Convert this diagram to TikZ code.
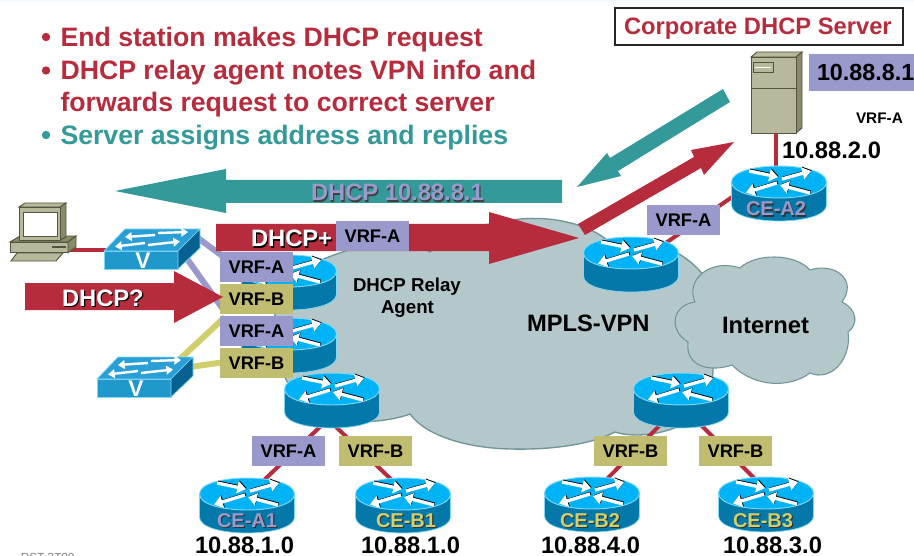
\documentclass[tikz,border=0pt]{standalone}
\usepackage{fontspec}
\setmainfont{Liberation Sans}
\usetikzlibrary{arrows.meta}
\definecolor{redc}{HTML}{B72C3C}
\definecolor{tealc}{HTML}{339999}
\definecolor{lav}{HTML}{9999CC}
\definecolor{kha}{HTML}{C0BC70}
\definecolor{yel}{HTML}{CFCF6E}
\definecolor{cloudf}{HTML}{B4C7CA}
\definecolor{cloudl}{HTML}{6F9598}
\definecolor{rtop}{HTML}{00B2F6}
\definecolor{rside}{HTML}{0478A8}
\definecolor{rrim}{HTML}{7FD8F5}
\definecolor{swf}{HTML}{2098CC}
\definecolor{swt}{HTML}{2A9FD6}
\definecolor{sws}{HTML}{046190}
\definecolor{begef}{HTML}{B8B89C}
\definecolor{begel}{HTML}{55553F}
\definecolor{beged}{HTML}{8A8A6A}
\newcommand\shtext[2]{\makebox[0pt][l]{\kern .9pt\raisebox{-.9pt}{\textcolor{#1}{#2}}}#2}
\tikzset{
  lbl/.style={inner sep=0pt,outer sep=0pt,anchor=base west,font=\bfseries\fontsize{#1}{#1}\selectfont},
  lbl/.default=17.8,
  vrfa/.style={fill=lav,minimum width=54.75pt,minimum height=22.5pt,inner sep=0pt,font=\bfseries\fontsize{13.7}{14}\selectfont},
  vrfb/.style={vrfa,fill=kha},
  link/.style={draw=redc,line width=3pt},
  lavlink/.style={draw=lav,line width=4.5pt},
  yellink/.style={draw=yel,line width=4.5pt},
  rarrow/.style={line width=2.5pt,-{Triangle[length=6.5pt,width=9pt]}},
  sarrow/.style={white,line width=1.8pt,-{Triangle[length=5pt,width=6.5pt]}},
  pics/router/.style={code={
    \path[fill=rside,draw=rrim,line width=.5pt] (-47.5,0) -- (-47.5,23) .. controls (-47.5,44.3) and (47.5,44.3) .. (47.5,23) -- (47.5,0) -- cycle;
    \path[fill=rtop,draw=rrim,line width=.7pt] (-47.5,0) .. controls (-47.5,-21.3) and (47.5,-21.3) .. (47.5,0) .. controls (47.5,21.3) and (-47.5,21.3) .. (-47.5,0) -- cycle;
    \foreach \a/\b/\c/\d in {-30/-11/-1/-5,3/-3/32/-11,-2/1/-33/10.5,31/11/1/3}{
      \draw[rarrow,black] (\a+.7,\b-.7) -- (\c+.7,\d-.7);
      \draw[rarrow,white] (\a,\b) -- (\c,\d);
    }
  }},
  pics/lanswitch/.style={code={
    \path[fill=swf,draw=rrim,line width=.5pt] (0,0) rectangle (74,18);
    \path[fill=swt,draw=rrim,line width=.5pt] (0,0) -- (21,-22) -- (96,-22) -- (74,0) -- cycle;
    \path[fill=sws,draw=rrim,line width=.5pt] (74,0) -- (96,-22) -- (96,-3) -- (74,18) -- cycle;
    \draw[sarrow] (51,-16) -- (21,-14);
    \draw[sarrow] (54,-18) -- (84,-19);
    \draw[sarrow] (41,-8) -- (11,-4.5);
    \draw[sarrow] (44,-6) -- (76,-9.5);
    \node[inner sep=0pt,text=white,font=\bfseries\fontsize{17}{17}\selectfont] at (39,10) {V};
  }}
}
\begin{document}
\begin{tikzpicture}[x=0.75pt,y=-0.75pt]
\useasboundingbox (0,0) rectangle (914,556);
\fill[white] (0,0) rectangle (914,556);
\fill[black!8!cyan!5!white] (0,0) rectangle (914,2);
\node[lbl=8.8,text=black!50,font=\fontsize{8.8}{9}\selectfont] (foot) at (21,561.4) {RST-2T00};
% positions
\coordinate (pe1) at (289,271);
\coordinate (pe2) at (289,334);
\coordinate (pe3) at (332,389);
\coordinate (hub) at (631,253);
\coordinate (cea2) at (779,182);
\coordinate (pe4) at (681,389);
\coordinate (cea1) at (247,494);
\coordinate (ceb1) at (403,494);
\coordinate (ceb2) at (592,493);
\coordinate (ceb3) at (766,493);
% clouds
\path[fill=cloudf,draw=cloudl,line width=1pt] (275,315) .. controls (270,290) and (300,265) .. (343,252)
  .. controls (370,240) and (410,240) .. (430,252)
  .. controls (445,235) and (470,226) .. (497,223)
  .. controls (540,212) and (585,222) .. (607,240)
  .. controls (640,235) and (680,245) .. (705,277)
  .. controls (720,300) and (720,340) .. (713,367)
  .. controls (715,390) and (690,425) .. (677,427)
  .. controls (655,436) and (630,437) .. (615,432)
  .. controls (590,445) and (550,450) .. (510,449)
  .. controls (465,448) and (425,435) .. (410,414)
  .. controls (395,420) and (360,425) .. (330,420)
  .. controls (290,410) and (265,345) .. (275,315) -- cycle;
\path[fill=cloudf,draw=cloudl,line width=.8pt] (695,302) .. controls (685,280) and (710,258) .. (740,268)
  .. controls (755,253) and (795,253) .. (810,270)
  .. controls (835,262) and (858,280) .. (842,302)
  .. controls (858,310) and (858,325) .. (848,332)
  .. controls (852,360) and (830,382) .. (810,373)
  .. controls (790,388) and (755,388) .. (732,365)
  .. controls (712,372) and (685,368) .. (688,342)
  .. controls (668,330) and (672,305) .. (695,302) -- cycle;
% connector ends
\coordinate (srvb) at (776,130);
\coordinate (cea2t) at (776,172);
\coordinate (cea2l) at (735,195);
\coordinate (hubr) at (660,247);
\coordinate (pe3l) at (322,425);
\coordinate (pe3r) at (336,427);
\coordinate (cea1t) at (262,482);
\coordinate (ceb1t) at (394,482);
\coordinate (pe4l) at (662,423);
\coordinate (pe4r) at (700,424);
\coordinate (ceb2t) at (605,481);
\coordinate (ceb3t) at (757,481);
\coordinate (pcr) at (70,250);
\coordinate (sw1l) at (108,250);
\coordinate (sw1a) at (198,238);
\coordinate (sw1b) at (185,256);
\coordinate (sw2a) at (180,359);
\coordinate (sw2b) at (190,367);
\coordinate (lab1) at (225,258);
\coordinate (lab2) at (225,312);
\coordinate (lab3) at (225,317);
\coordinate (lab4) at (225,362);
% connectors
\draw[link] (srvb) -- (cea2t);
\draw[link] (cea2l) -- (hubr);
\draw[link] (pe3l) -- (cea1t);
\draw[link] (pe3r) -- (ceb1t);
\draw[link] (pe4l) -- (ceb2t);
\draw[link] (pe4r) -- (ceb3t);
\draw[link] (pcr) -- (sw1l);
\draw[lavlink] (sw1a) -- (lab1);
\draw[lavlink] (sw1b) -- (lab2);
\draw[yellink] (sw2a) -- (lab3);
\draw[yellink] (sw2b) -- (lab4);
% routers
\pic at (pe1) {router};
\pic at (pe2) {router};
\pic at (pe3) {router};
\pic at (hub) {router};
\pic at (cea2) {router};
\pic at (pe4) {router};
\pic at (cea1) {router};
\pic at (ceb1) {router};
\pic at (ceb2) {router};
\pic at (ceb3) {router};
% switches
\pic at (104,251) {lanswitch};
\pic at (97,379) {lanswitch};
% PC
\path[fill=beged,draw=begel,line width=.7pt] (10,242) -- (20,236) -- (76,236) -- (68,242) -- cycle;
\path[fill=begef,draw=begel,line width=.7pt] (10,242) rectangle (68,252.7);
\path[fill=beged,draw=begel,line width=.7pt] (68,242) -- (76,236) -- (76,247) -- (68,252.7) -- cycle;
\draw[begel,line width=.8pt] (52,247) -- (66,247);
\path[fill=begef,draw=begel,line width=.7pt] (11,261) -- (17,253) -- (63,253) -- (56,261) -- cycle;
\path[fill=begef,draw=begel,line width=.7pt] (19,207) -- (25,203) -- (66,203) -- (60,207) -- cycle;
\path[fill=beged,draw=begel,line width=.7pt] (60,207) -- (66,203) -- (66,237) -- (60,240) -- cycle;
\path[fill=begef,draw=begel,line width=.7pt] (19,207) rectangle (60,240);
\path[fill=white,draw=begel,line width=.7pt] (23,212) rectangle (57,236);
% server
\path[fill=begef,draw=begel,line width=.7pt] (751,57) -- (757,52) -- (802,52) -- (796,57) -- cycle;
\path[fill=beged,draw=begel,line width=.7pt] (796,57) -- (802,52) -- (802,128) -- (796,133) -- cycle;
\path[fill=begef,draw=begel,line width=.7pt] (751,57) rectangle (796,133);
\draw[begel,line width=.5pt] (751,88) -- (796,88);
\draw[begel,line width=.5pt] (753,62) rectangle (773,72);
\draw[white,line width=.5pt] (755,67) -- (771,67);
% big arrows
\fill[tealc] (562,180) -- (226,180) -- (226,169) -- (115,191) -- (226,213) -- (226,203) -- (562,203) -- cycle;
\fill[redc] (216,224) -- (489,224) -- (489,212) -- (579,238) -- (489,264) -- (489,251) -- (216,251) -- cycle;
\fill[tealc] (723,89) -- (610,158) -- (607,153) -- (577,187) -- (621,176) -- (618,171) -- (730,102) -- cycle;
\fill[redc] (578,224) -- (694,157) -- (691,150) -- (734,142) -- (704,175) -- (701,168) -- (585,235) -- cycle;
% VRF labels
\node[vrfa] (v1) at (256.5,267) {VRF-A};
\node[vrfb] (v2) at (256.5,299) {VRF-B};
\node[vrfa] (v3) at (256.5,331) {VRF-A};
\node[vrfb] (v4) at (256.5,363) {VRF-B};
\node[vrfa] (v5) at (372.5,236) {VRF-A};
\node[vrfa] (v6) at (683.5,220) {VRF-A};
\node[vrfa] (v7) at (288.5,451) {VRF-A};
\node[vrfb] (v8) at (375.5,451) {VRF-B};
\node[vrfb] (v9) at (630.5,451) {VRF-B};
\node[vrfb] (v10) at (735.5,451) {VRF-B};
\fill[redc] (25,283) -- (174,283) -- (174,271) -- (223,297) -- (174,323) -- (174,310) -- (25,310) -- cycle;
% server boxes
\node[draw=black!85,fill=white,line width=.8pt,minimum width=216pt,minimum height=27.75pt,inner sep=0pt] (title) at (759,26.5) {};
\node[lbl,text=redc] (titletext) at (624,35) {Corporate DHCP Server};
\fill[lav] (809,54) rectangle (914,91);
\node[lbl=17.5] (ip0) at (817,81) {10.88.8.1};
\node[lbl=11.5] (vrfs) at (856,124) {VRF-A};
\node[lbl] (ip1) at (782,159) {10.88.2.0};
\node[lbl] (ip2) at (195,553) {10.88.1.0};
\node[lbl] (ip3) at (361,553) {10.88.1.0};
\node[lbl] (ip4) at (541,553) {10.88.4.0};
\node[lbl] (ip5) at (723,553) {10.88.3.0};
% arrow & router texts
\node[lbl,text=white] (t1) at (251,247) {\shtext{black}{DHCP+}};
\node[lbl,text=white] (t2) at (62,306) {\shtext{black}{DHCP?}};
\node[lbl,text=lav] (t3) at (311,201) {\shtext{black!75}{DHCP 10.88.8.1}};
\node[lbl=15,text=lav] (c1) at (217,527) {\shtext{black!80}{CE-A1}};
\node[lbl=15,text=yel] (c2) at (376,527) {\shtext{black!80}{CE-B1}};
\node[lbl=15,text=lav] (c3) at (746,216) {\shtext{black!80}{CE-A2}};
\node[lbl=15,text=yel] (c4) at (560,527) {\shtext{black!80}{CE-B2}};
\node[lbl=15,text=yel] (c5) at (733,527) {\shtext{black!80}{CE-B3}};
\node[lbl=14] (relay) at (353,291) {DHCP Relay};
\node[lbl=14] (agent) at (381,313) {Agent};
\node[lbl] (mpls) at (527,331) {MPLS-VPN};
\node[lbl] (inet) at (722,333) {Internet};
% bullets
\fill[redc] (46,37) circle (4.2);
\fill[redc] (46,70.5) circle (4.2);
\fill[tealc] (46,135) circle (4.2);
\node[lbl=20,text=redc] (b1) at (60.5,46.7) {End station makes DHCP request};
\node[lbl=20,text=redc] (b2) at (60.5,79.3) {DHCP relay agent notes VPN info and};
\node[lbl=20,text=redc] (b3) at (60.5,111.7) {forwards request to correct server};
\node[lbl=20,text=tealc] (b4) at (60.5,144.3) {Server assigns address and replies};
\end{tikzpicture}
\end{document}
